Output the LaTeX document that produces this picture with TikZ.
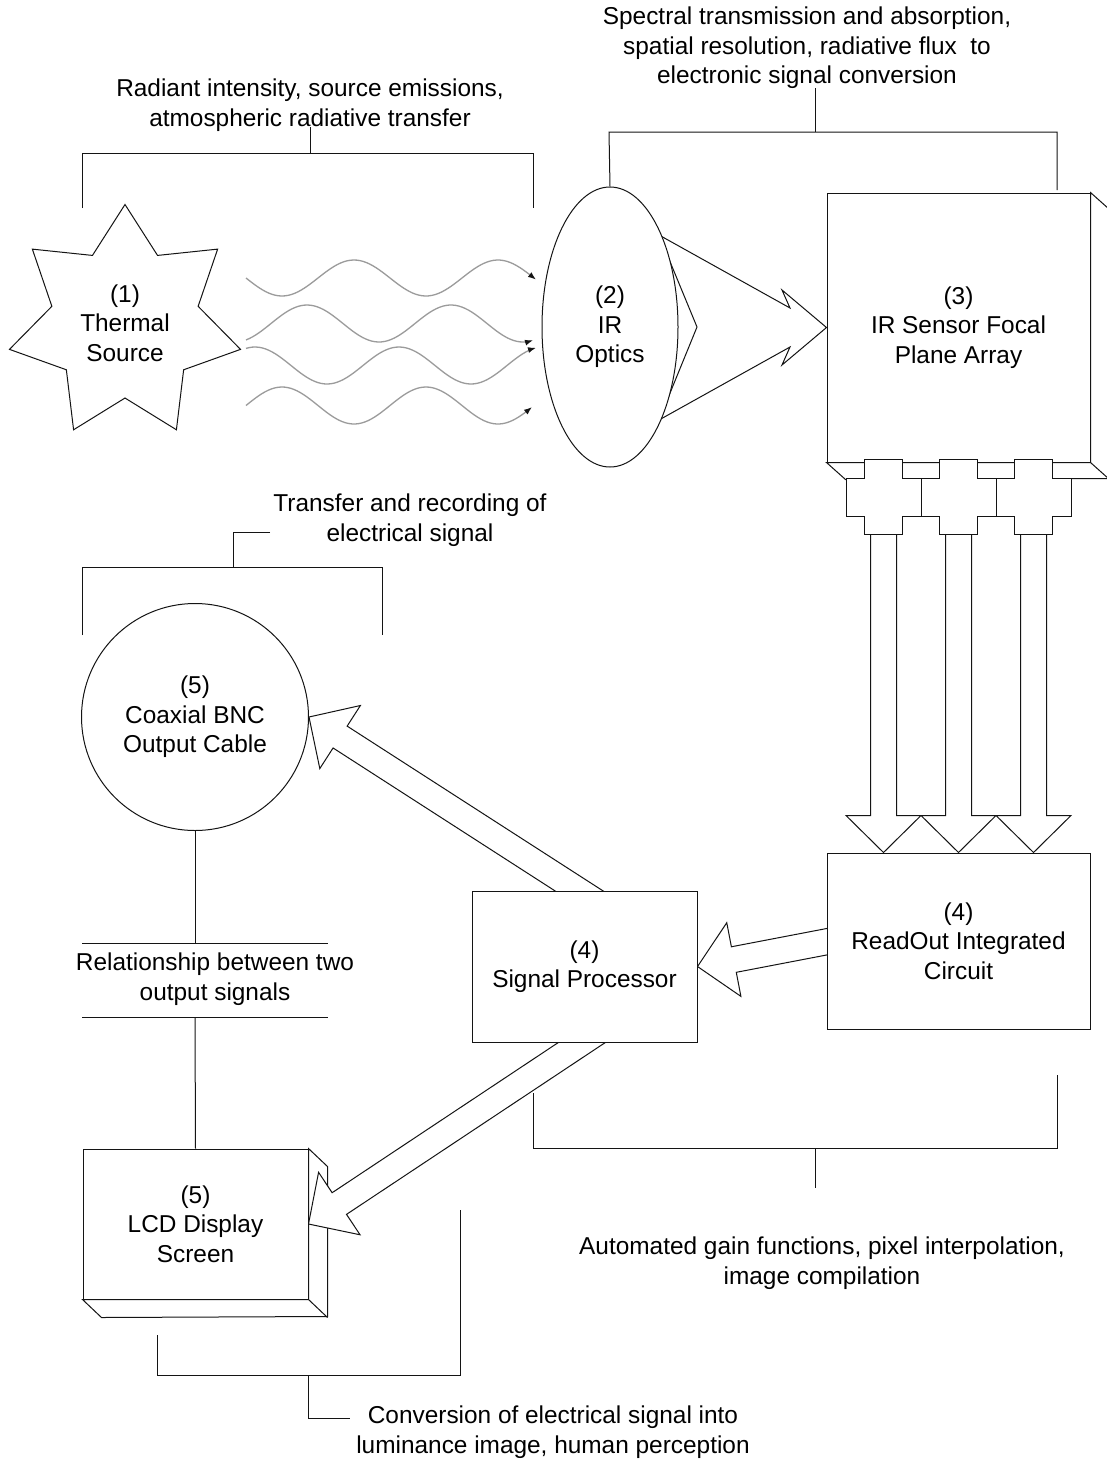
\documentclass[tikz,border=0pt]{standalone}
\usepackage{fontspec}
\setmainfont{Liberation Sans}
\usetikzlibrary{shapes.geometric,calc,arrows.meta}
\pgfdeclarelayer{faces}
\pgfdeclarelayer{links}
\pgfsetlayers{faces,links,main}

\definecolor{wavegray}{RGB}{155,155,155}
\definecolor{ink}{RGB}{20,20,20}

\tikzset{
  outline/.style={draw=ink, line width=1pt, fill=white},
  box/.style={outline, rectangle, inner sep=0pt, align=center},
  caption/.style={align=center, inner sep=0pt},
  brace/.style={draw=ink, line width=1pt},
  wave/.style={draw=wavegray, line width=1.3pt, -{Latex[length=8pt,width=6pt,color=ink]}},
  fat/.style={outline, line join=miter},
}

% hollow block arrow from a tail point to a tip point
\newcommand\fatarrow[2]{%
  \coordinate (fa-t) at (#1);
  \coordinate (fa-h) at (#2);
  \coordinate (fa-b) at ($(fa-h)!37pt!(fa-t)$);
  \draw[fat] ($(fa-t)!13pt!90:(fa-h)$) -- ($(fa-b)!13pt!90:(fa-h)$)
    -- ($(fa-b)!37.5pt!90:(fa-h)$) -- (fa-h) -- ($(fa-b)!37.5pt!-90:(fa-h)$)
    -- ($(fa-b)!13pt!-90:(fa-h)$) -- ($(fa-t)!13pt!-90:(fa-h)$) -- cycle;
}

\begin{document}
\begin{tikzpicture}[x=1pt,y=-1pt,font=\fontsize{24.4}{29.5}\selectfont]
\useasboundingbox (0,0) rectangle (1107,1460);
\begin{pgfonlayer}{faces}
  \fill[white] (0,0) rectangle (1107,1460);
\end{pgfonlayer}

% ---------- main blocks ----------
\node[outline, star, star points=7, star point ratio=1.58, minimum size=237pt,
      inner sep=0pt, align=center] (src) at (125,323) {(1)\\Thermal\\Source};
\node[outline, ellipse, minimum width=136pt, minimum height=280pt, inner sep=0pt,
      align=center] (opt) at (610,327) {(2)\\IR\\Optics};
\node[box, minimum width=263pt, minimum height=269pt] (fpa) at (958.5,327.5)
      {(3)\\IR Sensor Focal\\Plane Array};
\node[box, minimum width=263pt, minimum height=176pt] (roic) at (958.5,941)
      {(4)\\ReadOut Integrated\\Circuit};
\node[box, minimum width=225pt, minimum height=151pt] (sp) at (584.5,966.5)
      {(4)\\Signal Processor};
\node[outline, circle, minimum size=227pt, inner sep=0pt, align=center] (coax)
      at (195,717) {(5)\\Coaxial BNC\\Output Cable};
\node[box, minimum width=225pt, minimum height=150pt] (lcd) at (195.5,1224)
      {(5)\\LCD Display\\Screen};

% ---------- 3-D depth faces ----------
\begin{pgfonlayer}{faces}
  \draw[outline] (fpa.north east) -- ++(19,17) -- ++(0,269) -- ($(fpa.south west)+(19,17)$)
    -- (fpa.south west) -- (fpa.south east) -- cycle;
  \draw[brace] (fpa.south east) -- ++(19,17);
  \draw[outline] (lcd.north east) -- ++(19,18) -- ++(0,150) -- ($(lcd.south west)+(19,18)$)
    -- (lcd.south west) -- (lcd.south east) -- cycle;
  \draw[brace] (lcd.south east) -- ++(19,18);
\end{pgfonlayer}

% ---------- array interconnect crosses ----------
\coordinate (c2) at ($(fpa.south)+(0,34.5)$);
\coordinate (c1) at ($(c2)+(-75,0)$);
\coordinate (c3) at ($(c2)+(75,0)$);
\foreach \c in {c1,c2,c3}{
  \draw[outline] (\c) ++(-19,-37.5) -- ++(38,0) -- ++(0,18.5) -- ++(18.5,0) -- ++(0,38)
    -- ++(-18.5,0) -- ++(0,18.5) -- ++(-38,0) -- ++(0,-18.5) -- ++(-18.5,0) -- ++(0,-38)
    -- ++(18.5,0) -- cycle;
}
\coordinate (r1) at ($(roic.north)+(-75,0)$);
\coordinate (r2) at (roic.north);
\coordinate (r3) at ($(roic.north)+(75,0)$);

% ---------- radiation waves ----------
\draw[wave] plot[domain=246:536, samples=90, smooth] (\x,{278+18*sin(2.5*(\x-246))});
\draw[wave] plot[domain=246:533, samples=90, smooth] (\x,{323.5+18.5*cos(2.5*(\x-235))});
\draw[wave] plot[domain=246:536, samples=90, smooth] (\x,{365.5-18.5*cos(2.5*(\x-255))});
\draw[wave] plot[domain=246:532, samples=90, smooth] (\x,{405.5-18.5*sin(2.5*(\x-246))});

% ---------- block arrows ----------
\coordinate (t-rs) at (867,934);
\coordinate (t-sc) at (619.6,917);
\coordinate (t-sl) at (623.7,1014.7);
\begin{pgfonlayer}{links}
  \draw[fat] (659,235) -- (790,308) -- (782,290) -- (fpa.west) -- (782,365)
    -- (790,347) -- (659,420) -- (697,327) -- cycle;
  \fatarrow{c1}{r1}
  \fatarrow{c2}{r2}
  \fatarrow{c3}{r3}
  \fatarrow{t-rs}{sp.east}
  \fatarrow{t-sc}{coax.east}
  \fatarrow{t-sl}{lcd.east}
\end{pgfonlayer}

% ---------- captions ----------
\node[caption] (cap1) at (310,105) {Radiant intensity, source emissions,\\atmospheric radiative transfer};
\node[caption] (cap2) at (807,48) {Spectral transmission and absorption,\\spatial resolution, radiative flux\ \ to\\electronic signal conversion};
\node[caption] (cap3) at (410,520) {Transfer and recording of\\electrical signal};
\node[caption] (cap4) at (215,979) {Relationship between two\\output signals};
\node[caption] (cap5) at (822,1263) {Automated gain functions, pixel interpolation,\\image compilation};
\node[caption] (cap6) at (553,1432) {Conversion of electrical signal into\\luminance image, human perception};

% ---------- brackets ----------
\draw[brace] (82,208) -- (82,153) -- (533,153) -- (533,208);
\draw[brace] (310,127) -- (310,153);
\draw[brace] (opt.north) -- (609,132) -- (1057,132) -- (1057,190);
\draw[brace] (815,88) -- (815,132);
\draw[brace] (82,635) -- (82,567) -- (382,567) -- (382,635);
\draw[brace] (270,532) -- (233,532) -- (233,567);
\draw[brace] (coax.south) -- (195,943);
\draw[brace] (82,943) -- (328,943);
\draw[brace] (82,1017) -- (328,1017);
\draw[brace] (195,1017) -- (lcd.north);
\draw[brace] (533,1093) -- (533,1148) -- (1057,1148) -- (1057,1075);
\draw[brace] (815,1148) -- (815,1188);
\draw[brace] (157,1335) -- (157,1375) -- (460,1375) -- (460,1210);
\draw[brace] (308,1375) -- (308,1418) -- (350,1418);
\end{tikzpicture}
\end{document}
